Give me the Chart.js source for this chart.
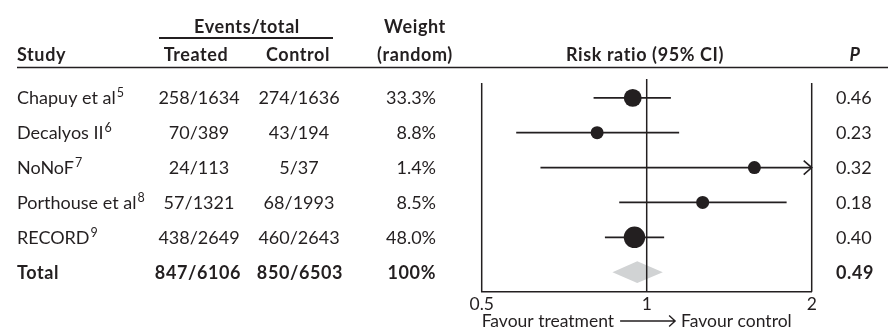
<!DOCTYPE html>
<html>
<head>
<meta charset="utf-8">
<script src="https://cdn.jsdelivr.net/npm/chart.js@4"></script>
<style>
  html, body { margin: 0; padding: 0; background: #fff; }
  #wrap { width: 888px; height: 329px; }
</style>
</head>
<body>
<div id="wrap"><canvas id="forest" width="888" height="329"></canvas></div>
<script>
// study data
const studies = ['Chapuy et al', 'Decalyos II', 'NoNoF', 'Porthouse et al', 'RECORD'];
const refs = ['5', '6', '7', '8', '9'];
const treated = ['258/1634', '70/389', '24/113', '57/1321', '438/2649'];
const control = ['274/1636', '43/194', '5/37', '68/1993', '460/2643'];
const weights = [33.3, 8.8, 1.4, 8.5, 48.0];
const rr = [0.943, 0.812, 1.572, 1.265, 0.950];
const ciLow = [0.80, 0.578, 0.64, 0.891, 0.839];
const ciHigh = [1.107, 1.146, 3.86, 1.80, 1.076];
const pValues = ['0.46', '0.23', '0.32', '0.18', '0.40'];

// pooled result
const total = {treated: '847/6106', control: '850/6503', weight: '100%', p: '0.49'};
const totalRR = 0.961, totalLow = 0.866, totalHigh = 1.07;

const xTicks = [0.5, 1, 2];

const ink = '#231f20';
const FONT = 'Lato';
const totalRow = studies.length;

let datasets = [];

// CI lines, one per study
studies.forEach(function (s, i) {
  datasets.push({
    type: 'line',
    data: [{x: ciLow[i], y: i}, {x: ciHigh[i], y: i}],
    borderColor: ink,
    borderWidth: 1.8,
    pointRadius: 0,
    order: 3
  });
});

// point estimates
datasets.push({
  type: 'scatter',
  data: rr.map((v, i) => ({x: v, y: i})),
  backgroundColor: ink,
  borderColor: ink,
  borderWidth: 0,
  pointRadius: weights.map(w => Math.max(6.5, 1.55 * Math.sqrt(w))),
  pointHoverRadius: weights.map(w => Math.max(6.5, 1.55 * Math.sqrt(w))),
  order: 1
});

// pooled diamond
const dh = 0.31;
datasets.push({
  type: 'line',
  data: [
    {x: totalLow, y: totalRow},
    {x: totalRR, y: totalRow - dh},
    {x: totalHigh, y: totalRow},
    {x: totalRR, y: totalRow + dh},
    {x: totalLow, y: totalRow}
  ],
  borderColor: '#d1d3d4',
  borderWidth: 0,
  backgroundColor: '#d1d3d4',
  fill: 'shape',
  pointRadius: 0,
  tension: 0,
  order: 2
});

function txt(ctx, s, x, y, align, weight, size, style) {
  ctx.font = (style || '') + ' ' + (weight || 'normal') + ' ' + (size || 18) + 'px ' + FONT;
  ctx.letterSpacing = weight === 'bold' ? '0.6px' : '0px';
  ctx.textAlign = align || 'left';
  ctx.textBaseline = 'alphabetic';
  ctx.fillText(s, x, y);
  return ctx.measureText(s).width;
}

const tablePlugin = {
  id: 'tablePlugin',
  afterDatasetsDraw(chart) {
    const ctx = chart.ctx;
    const xs = chart.scales.x;
    const ys = chart.scales.y;
    const area = chart.chartArea;
    ctx.save();
    ctx.strokeStyle = ink;
    ctx.fillStyle = ink;

    // box sides
    ctx.lineWidth = 1.5;
    ctx.beginPath();
    ctx.moveTo(area.left, area.top + 2);
    ctx.lineTo(area.left, area.bottom);
    ctx.moveTo(area.right, area.top + 2);
    ctx.lineTo(area.right, area.bottom);
    ctx.stroke();

    // line of no effect
    const x1 = xs.getPixelForValue(1);
    ctx.beginPath();
    ctx.moveTo(x1, area.top - 2);
    ctx.lineTo(x1, area.bottom);
    ctx.stroke();

    // arrow heads where the CI runs off the axis
    ctx.lineWidth = 1.6;
    ciHigh.forEach(function (h, i) {
      if (h > xs.max) {
        const y = ys.getPixelForValue(i);
        ctx.beginPath();
        ctx.moveTo(area.right - 8, y - 7);
        ctx.lineTo(area.right, y);
        ctx.lineTo(area.right - 8, y + 7);
        ctx.stroke();
      }
    });

    // headers
    txt(ctx, 'Events/total', 247, 33, 'center', 'bold');
    txt(ctx, 'Weight', 415, 33, 'center', 'bold');
    txt(ctx, 'Study', 17, 61, 'left', 'bold');
    txt(ctx, 'Treated', 196, 61, 'center', 'bold');
    txt(ctx, 'Control', 298, 61, 'center', 'bold');
    txt(ctx, '(random)', 415, 61, 'center', 'bold');
    txt(ctx, 'Risk ratio (95% CI)', 645, 61, 'center', 'bold');
    txt(ctx, 'P', 855, 61, 'center', 'bold', 18, 'italic');

    ctx.lineWidth = 1.8;
    ctx.beginPath();
    ctx.moveTo(159, 38);
    ctx.lineTo(333, 38);
    ctx.stroke();
    ctx.lineWidth = 1.5;
    ctx.beginPath();
    ctx.moveTo(17, 67.5);
    ctx.lineTo(888, 67.5);
    ctx.stroke();

    // study rows
    studies.forEach(function (s, i) {
      const b = ys.getPixelForValue(i) + 6.5;
      const w = txt(ctx, s, 17, b, 'left');
      txt(ctx, refs[i], 17 + w + 1, b - 7, 'left', 'normal', 12.5);
      txt(ctx, treated[i], 199, b, 'center');
      txt(ctx, control[i], 299, b, 'center');
      txt(ctx, weights[i].toFixed(1) + '%', 436, b, 'right');
      txt(ctx, pValues[i], 836, b, 'left');
    });

    // total row
    const tb = ys.getPixelForValue(totalRow) + 6.5;
    txt(ctx, 'Total', 17, tb, 'left', 'bold');
    txt(ctx, total.treated, 198, tb, 'center', 'bold');
    txt(ctx, total.control, 300, tb, 'center', 'bold');
    txt(ctx, total.weight, 436, tb, 'right', 'bold');
    txt(ctx, total.p, 836, tb, 'left', 'bold');

    // direction label under the axis
    const fy = 327;
    const w1 = txt(ctx, 'Favour treatment', area.left, fy, 'left', 'normal', 17.5);
    const a0 = area.left + w1 + 6, a1 = a0 + 55;
    ctx.lineWidth = 1.4;
    ctx.beginPath();
    ctx.moveTo(a0, fy - 6);
    ctx.lineTo(a1, fy - 6);
    ctx.moveTo(a1 - 6, fy - 11.5);
    ctx.lineTo(a1, fy - 6);
    ctx.lineTo(a1 - 6, fy - 0.5);
    ctx.stroke();
    txt(ctx, 'Favour control', a1 + 6, fy, 'left', 'normal', 17.5);

    ctx.restore();
  }
};

const chart = new Chart(document.getElementById('forest'), {
  type: 'scatter',
  data: {datasets: datasets},
  options: {
    responsive: false,
    animation: false,
    events: [],
    layout: {padding: {left: 481.7, right: 76.3, top: 81, bottom: 0}},
    plugins: {
      legend: {display: false},
      tooltip: {enabled: false}
    },
    scales: {
      x: {
        type: 'logarithmic',
        min: 0.5,
        max: 2,
        afterBuildTicks: function (axis) {
          axis.ticks = xTicks.map(v => ({value: v}));
        },
        afterFit: function (axis) {
          axis.height = 37.3;
        },
        grid: {display: false, drawTicks: false},
        border: {display: true, color: ink, width: 1.6},
        ticks: {
          color: ink,
          padding: 2,
          maxRotation: 0,
          autoSkip: false,
          font: {family: FONT, size: 17.5},
          callback: function (v) { return String(v); }
        }
      },
      y: {
        type: 'linear',
        display: false,
        reverse: true,
        min: -0.483,
        max: 5.56
      }
    }
  },
  plugins: [tablePlugin]
});
</script>
</body>
</html>
